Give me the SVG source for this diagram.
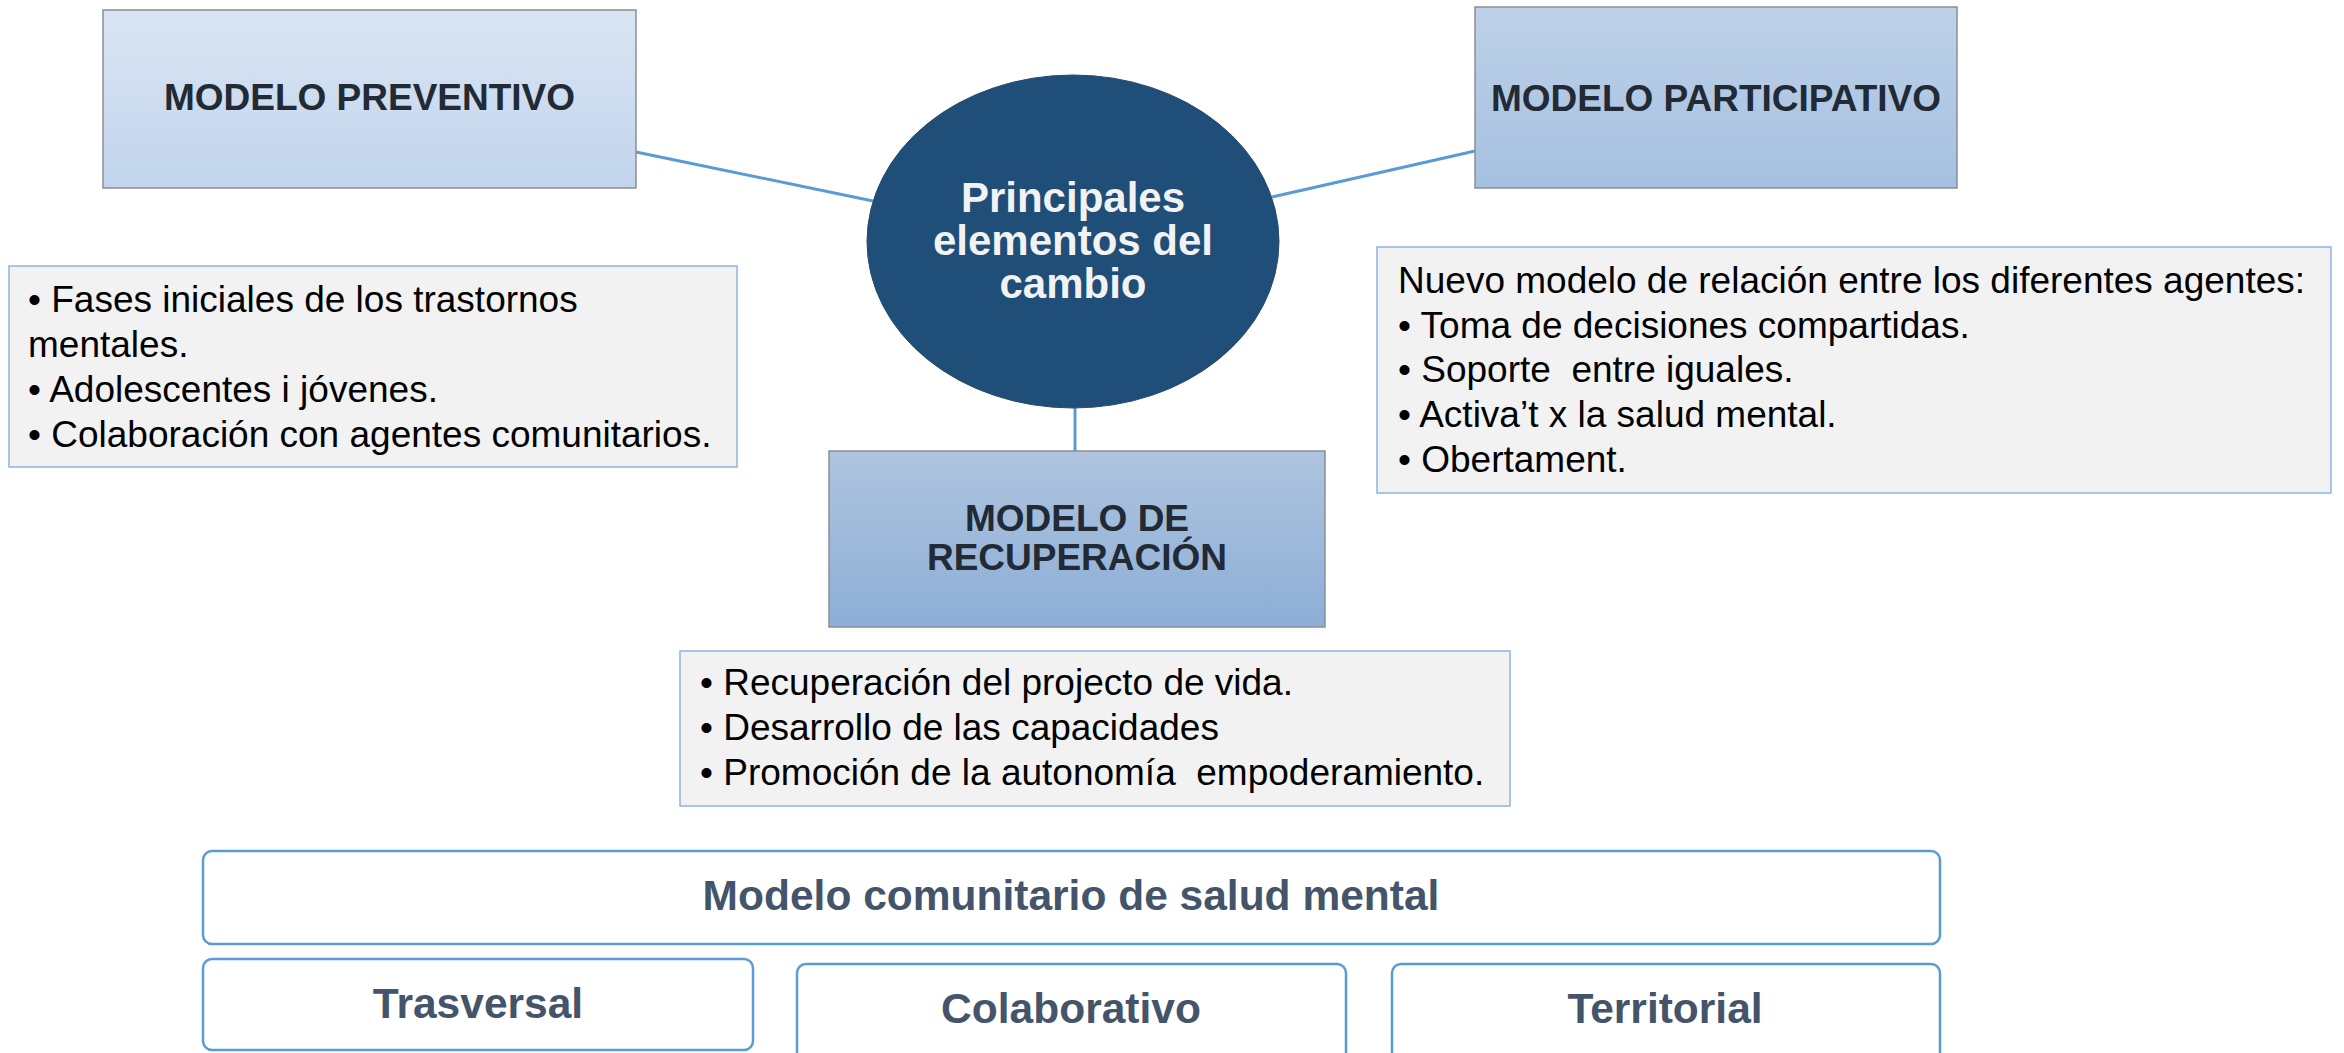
<svg xmlns="http://www.w3.org/2000/svg" width="2344" height="1053" viewBox="0 0 2344 1053">
  <defs>
    <linearGradient id="gPrev" x1="0" y1="0" x2="0" y2="1">
      <stop offset="0" stop-color="#dae5f3"/>
      <stop offset="1" stop-color="#c1d4ec"/>
    </linearGradient>
    <linearGradient id="gPart" x1="0" y1="0" x2="0" y2="1">
      <stop offset="0" stop-color="#bed1e8"/>
      <stop offset="1" stop-color="#a5c0e0"/>
    </linearGradient>
    <linearGradient id="gRec" x1="0" y1="0" x2="0" y2="1">
      <stop offset="0" stop-color="#aec4df"/>
      <stop offset="1" stop-color="#8daed6"/>
    </linearGradient>
  </defs>
  <style>
    .head { stroke: #8a8f96; stroke-width: 1.5; }
    .headtxt { font-family: "Liberation Sans", Arial, sans-serif; font-weight: bold; font-size: 37px; fill: #222a35; text-anchor: middle; }
    .note { fill: #f2f2f2; stroke: #8db4e2; stroke-width: 1.5; }
    .notetxt { font-family: "Liberation Sans", Arial, sans-serif; font-size: 37px; fill: #000000; }
    .conn { stroke: #5b9bd5; stroke-width: 3; fill: none; }
    .pill { fill: #ffffff; stroke: #5b9bd5; stroke-width: 2.5; }
    .pilltxt { font-family: "Liberation Sans", Arial, sans-serif; font-weight: bold; font-size: 42.5px; fill: #44546a; text-anchor: middle; }
    .center { fill: #1f4e79; stroke: #2a4a6a; stroke-width: 1; }
    .centertxt { font-family: "Liberation Sans", Arial, sans-serif; font-weight: bold; font-size: 42px; fill: #f2f2f2; text-anchor: middle; }
  </style>
  <rect width="2344" height="1053" fill="#ffffff"/>

  <g id="connectors">
    <line class="conn" x1="636" y1="152" x2="873" y2="201"/>
    <line class="conn" x1="1272" y1="197" x2="1475" y2="151"/>
    <line class="conn" x1="1075" y1="408" x2="1075" y2="451"/>
  </g>

  <g id="modelo-preventivo">
    <rect class="head" x="103" y="10" width="533" height="178" fill="url(#gPrev)"/>
    <text class="headtxt" x="369.5" y="110">MODELO PREVENTIVO</text>
  </g>

  <g id="modelo-participativo">
    <rect class="head" x="1475" y="7" width="482" height="181" fill="url(#gPart)"/>
    <text class="headtxt" x="1716" y="111">MODELO PARTICIPATIVO</text>
  </g>

  <g id="centro">
    <ellipse class="center" cx="1073" cy="241.5" rx="206" ry="166.5"/>
    <text class="centertxt" x="1073" y="212">Principales</text>
    <text class="centertxt" x="1073" y="255">elementos del</text>
    <text class="centertxt" x="1073" y="298">cambio</text>
  </g>

  <g id="notas-preventivo">
    <rect class="note" x="9" y="266" width="728" height="201"/>
    <text class="notetxt" x="28" y="312">• Fases iniciales de los trastornos</text>
    <text class="notetxt" x="28" y="357">mentales.</text>
    <text class="notetxt" x="28" y="402">• Adolescentes i jóvenes.</text>
    <text class="notetxt" x="28" y="447">• Colaboración con agentes comunitarios.</text>
  </g>

  <g id="notas-participativo">
    <rect class="note" x="1377" y="247" width="954" height="246"/>
    <text class="notetxt" x="1398" y="293">Nuevo modelo de relación entre los diferentes agentes:</text>
    <text class="notetxt" x="1398" y="338">• Toma de decisiones compartidas.</text>
    <text class="notetxt" x="1398" y="382" xml:space="preserve">• Soporte  entre iguales.</text>
    <text class="notetxt" x="1398" y="427">• Activa’t x la salud mental.</text>
    <text class="notetxt" x="1398" y="472">• Obertament.</text>
  </g>

  <g id="modelo-recuperacion">
    <rect class="head" x="829" y="451" width="496" height="176" fill="url(#gRec)"/>
    <text class="headtxt" x="1077" y="531">MODELO DE</text>
    <text class="headtxt" x="1077" y="570">RECUPERACIÓN</text>
  </g>

  <g id="notas-recuperacion">
    <rect class="note" x="680" y="651" width="830" height="155"/>
    <text class="notetxt" x="700" y="695">• Recuperación del projecto de vida.</text>
    <text class="notetxt" x="700" y="740">• Desarrollo de las capacidades</text>
    <text class="notetxt" x="700" y="785" xml:space="preserve">• Promoción de la autonomía  empoderamiento.</text>
  </g>

  <g id="modelo-comunitario">
    <rect class="pill" x="203" y="851" width="1737" height="93" rx="9" ry="9"/>
    <text class="pilltxt" x="1071" y="910">Modelo comunitario de salud mental</text>
  </g>

  <g id="trasversal">
    <rect class="pill" x="203" y="959" width="550" height="91" rx="9" ry="9"/>
    <text class="pilltxt" x="478" y="1018">Trasversal</text>
  </g>

  <g id="colaborativo">
    <rect class="pill" x="797" y="964" width="549" height="110" rx="9" ry="9"/>
    <text class="pilltxt" x="1071" y="1023">Colaborativo</text>
  </g>

  <g id="territorial">
    <rect class="pill" x="1392" y="964" width="548" height="110" rx="9" ry="9"/>
    <text class="pilltxt" x="1665" y="1023">Territorial</text>
  </g>
</svg>
